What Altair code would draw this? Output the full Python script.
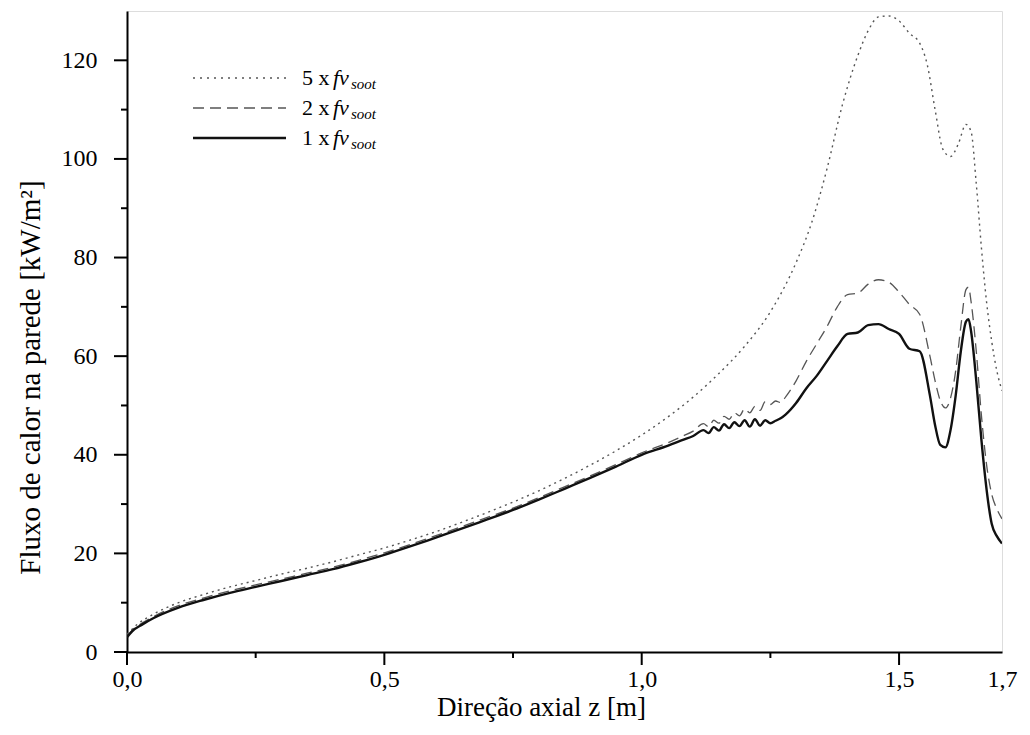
import altair as alt
import pandas as pd

# ---------------- data ----------------
z_1x = [0, 0.01, 0.03, 0.05, 0.1, 0.15, 0.2, 0.25, 0.3, 0.35, 0.4, 0.45, 0.5, 0.55, 0.6,
        0.65, 0.7, 0.75, 0.8, 0.85, 0.9, 0.95, 1.0, 1.05, 1.08, 1.10, 1.12, 1.13, 1.14, 1.15,
        1.16, 1.17, 1.18, 1.19, 1.20, 1.21, 1.22, 1.23, 1.24, 1.25, 1.26, 1.27, 1.28, 1.30,
        1.32, 1.34, 1.36, 1.38, 1.40, 1.42, 1.44, 1.46, 1.48, 1.50, 1.52, 1.54, 1.56, 1.57,
        1.58, 1.59, 1.60, 1.61, 1.62, 1.63, 1.635, 1.64, 1.65, 1.66, 1.67, 1.68, 1.69, 1.70]
q_1x = [3.0, 4.2, 5.6, 6.8, 9.0, 10.6, 12.0, 13.2, 14.4, 15.6, 16.8, 18.2, 19.7, 21.4, 23.2,
        25.0, 26.9, 28.8, 30.9, 33.1, 35.3, 37.6, 40.0, 41.8, 43.0, 43.8, 45.0, 44.4, 45.6, 44.9,
        46.2, 45.4, 46.6, 45.8, 47.0, 45.7, 47.2, 45.9, 47.0, 46.4, 46.9, 47.4, 48.2, 50.5,
        53.5, 56.0, 59.0, 62.0, 64.5, 64.8, 66.3, 66.5, 65.5, 64.5, 61.5, 61.0, 52.0, 46.0,
        42.0, 41.5, 45.0, 52.0, 61.0, 67.0, 67.5, 65.0, 55.0, 43.0, 33.0, 26.0, 23.5, 22.0]

z_2x = z_1x
q_2x = [3.2, 4.4, 5.9, 7.1, 9.4, 11.0, 12.4, 13.6, 14.8, 16.0, 17.2, 18.6, 20.1, 21.8, 23.6,
        25.4, 27.3, 29.2, 31.3, 33.5, 35.7, 38.0, 40.4, 42.4, 43.8, 44.8, 46.3, 45.7, 47.0, 46.4,
        47.8, 47.2, 48.5, 47.9, 49.3, 48.5, 49.8, 49.0, 50.8, 50.2, 50.9, 50.6, 51.8, 55.0,
        59.0, 62.5, 66.0, 70.0, 72.5, 72.8, 74.6, 75.5, 75.0, 73.0, 70.5, 68.5, 60.0, 55.0,
        51.0, 49.5, 51.5, 57.0, 66.0, 73.5, 74.0, 71.0, 61.0, 48.0, 38.0, 32.0, 29.0, 27.0]

z_5x = [0, 0.02, 0.05, 0.1, 0.15, 0.2, 0.25, 0.3, 0.35, 0.4, 0.45, 0.5, 0.55, 0.6, 0.65, 0.7,
        0.75, 0.8, 0.85, 0.9, 0.95, 1.0, 1.05, 1.1, 1.15, 1.2, 1.25, 1.3, 1.33, 1.36, 1.39,
        1.42, 1.44, 1.46, 1.48, 1.50, 1.52, 1.54, 1.555, 1.57, 1.585, 1.60, 1.615, 1.63, 1.64,
        1.65, 1.66, 1.67, 1.68, 1.69, 1.70]
q_5x = [3.6, 5.6, 7.6, 10.0, 11.7, 13.2, 14.5, 15.8, 17.0, 18.3, 19.7, 21.1, 22.7, 24.4, 26.3,
        28.3, 30.4, 32.7, 35.2, 37.9, 40.8, 44.0, 47.6, 51.7, 56.5, 62.0, 69.0, 79.0, 87.0,
        98.0, 111.0, 121.0, 126.0, 128.8, 129.0, 128.0, 125.5, 123.5, 119.0, 110.0, 102.0,
        100.5, 103.0, 107.0, 105.5, 95.0, 82.0, 71.0, 63.0, 57.0, 53.0]

x_major = [0, 0.5, 1.0, 1.5]
x_minor = [0.25, 0.75, 1.25]
x_labels = [0, 0.5, 1.0, 1.5, 1.7]
y_major = [0, 20, 40, 60, 80, 100, 120]
y_minor = [10, 30, 50, 70, 90, 110]

# ---------------- layout ----------------
W, H = 875, 641
FONT = "Liberation Serif"

rows = []
for name, zs, qs in [("5x", z_5x, q_5x), ("2x", z_2x, q_2x), ("1x", z_1x, q_1x)]:
    for a, b in zip(zs, qs):
        rows.append({"s": name, "z": a, "q": b})
df = pd.DataFrame(rows)

xscale = alt.Scale(domain=[0, 1.7], nice=False, zero=False)
yscale = alt.Scale(domain=[0, 130], nice=False, zero=False)

xaxis = alt.Axis(values=x_labels, labelExpr="replace(format(datum.value, '.1f'), '.', ',')",
                 ticks=False, tickSize=0, grid=False, domainColor="black", domainWidth=2,
                 labelFont=FONT, labelFontSize=24, labelColor="black", labelPadding=15,
                 labelFlush=False, labelOverlap=False,
                 title="Direção axial z [m]", titleFont=FONT, titleFontSize=27,
                 titleFontWeight="normal", titleColor="black", titlePadding=3, titleX=414)
yaxis = alt.Axis(values=y_major, ticks=False, tickSize=0, grid=False, domainColor="black",
                 domainWidth=2, labelFont=FONT, labelFontSize=24, labelColor="black",
                 labelPadding=30, labelOverlap=False,
                 title="Fluxo de calor na parede [kW/m²]", titleFont=FONT, titleFontSize=29,
                 titleFontWeight="normal", titleColor="black", titlePadding=16, titleY=366)


def series(name, color, width, dash=None):
    kw = dict(color=color, strokeWidth=width, interpolate="monotone", clip=True)
    if dash:
        kw["strokeDash"] = dash
    return alt.Chart(df).transform_filter(alt.datum.s == name).mark_line(**kw).encode(
        x=alt.X("z:Q", scale=xscale, axis=xaxis),
        y=alt.Y("q:Q", scale=yscale, axis=yaxis),
    )


l5 = series("5x", "#555555", 1.4, [2, 4])
l2 = series("2x", "#555555", 1.3, [11, 6])
l1 = series("1x", "#111111", 2.4)

# tick marks drawn through the scales
xt_major = alt.Chart(pd.DataFrame({"z": x_major})).mark_rule(color="black", strokeWidth=2).encode(
    x=alt.X("z:Q", scale=xscale, axis=xaxis), y=alt.value(H), y2=alt.value(H + 13))
xt_minor = alt.Chart(pd.DataFrame({"z": x_minor})).mark_rule(color="black", strokeWidth=2).encode(
    x=alt.X("z:Q", scale=xscale, axis=xaxis), y=alt.value(H), y2=alt.value(H + 6))
yt_major = alt.Chart(pd.DataFrame({"q": y_major})).mark_rule(color="black", strokeWidth=2).encode(
    y=alt.Y("q:Q", scale=yscale, axis=yaxis), x=alt.value(-13), x2=alt.value(0))
yt_minor = alt.Chart(pd.DataFrame({"q": y_minor})).mark_rule(color="black", strokeWidth=2).encode(
    y=alt.Y("q:Q", scale=yscale, axis=yaxis), x=alt.value(-6), x2=alt.value(0))

# legend (drawn manually to get the italic/subscript label)
one = pd.DataFrame({"k": [0]})
leg = []
for ypos, color, width, dash, num in [(67, "#555555", 1.4, [2, 5], "5"),
                                      (97, "#555555", 1.3, [11, 6], "2"),
                                      (127, "#111111", 2.6, None, "1")]:
    kw = dict(color=color, strokeWidth=width)
    if dash:
        kw["strokeDash"] = dash
    leg.append(alt.Chart(one).mark_rule(**kw).encode(
        x=alt.value(66), x2=alt.value(159), y=alt.value(ypos)))
    leg.append(alt.Chart(one).mark_text(align="left", baseline="middle", font=FONT,
                                        fontSize=22, color="black").encode(
        x=alt.value(175), y=alt.value(ypos), text=alt.value(num + " x")))
    leg.append(alt.Chart(one).mark_text(align="left", baseline="middle", font=FONT,
                                        fontSize=22, fontStyle="italic", color="black").encode(
        x=alt.value(206), y=alt.value(ypos), text=alt.value("fv")))
    leg.append(alt.Chart(one).mark_text(align="left", baseline="middle", font=FONT,
                                        fontSize=15, fontStyle="italic", color="black").encode(
        x=alt.value(224), y=alt.value(ypos + 6), text=alt.value("soot")))

chart = alt.layer(l5, l2, l1, xt_major, xt_minor, yt_major, yt_minor, *leg).properties(
    width=W, height=H, autosize="none",
    padding={"left": 119, "top": 3, "right": 20, "bottom": 80},
).configure_view(stroke="black", strokeWidth=1.5).configure(
    background="white", font=FONT
).configure_axis(labelFont=FONT, titleFont=FONT).configure_text(font=FONT)

chart.save("out.html", embed_options={"renderer": "svg", "actions": False})
